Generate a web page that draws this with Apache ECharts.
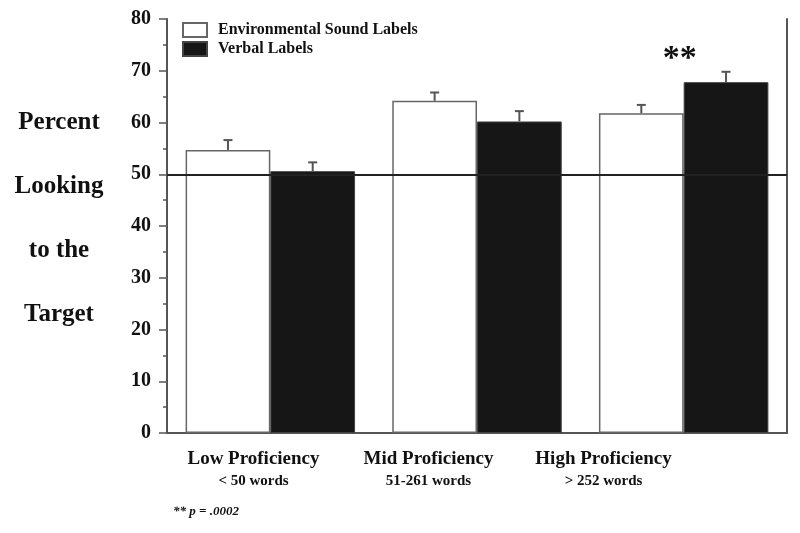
<!DOCTYPE html>
<html><head><meta charset="utf-8">
<script src="https://cdn.jsdelivr.net/npm/echarts@6/dist/echarts.min.js"></script>
<style>html,body{margin:0;padding:0;background:#fff}#c{width:800px;height:533px}</style>
</head><body><div id="c"></div>
<script>
const categories = ['Low Proficiency', 'Mid Proficiency', 'High Proficiency'];
const subLabels = ['< 50 words', '51-261 words', '> 252 words'];
const seriesNames = ['Environmental Sound Labels', 'Verbal Labels'];
const envValues = [54.7, 64.2, 61.8];
const envErrors = [1.9, 1.6, 1.6];
const verbalValues = [50.6, 60.2, 67.8];
const verbalErrors = [1.7, 2.0, 2.0];
const chanceLevel = 50;
const sigCategory = 2;
const sigText = '**';
const yTitleLines = ['Percent', 'Looking', 'to the', 'Target'];
const footnote = '** p = .0002';

const SERIF = '"Liberation Serif", "DejaVu Serif", serif';
const GAP = 0.18;
const AX = '#555';

function errRender(sign) {
  return function (params, api) {
    const x = api.value(0), v = api.value(1), e = api.value(2);
    const base = api.coord([x, v]);
    const top = api.coord([x, v + e]);
    const band = api.size([1, 0])[0];
    const cx = base[0] + sign * band * (1 - GAP) / 4;
    const hw = 4.5;
    return {
      type: 'group',
      children: [
        { type: 'line', shape: { x1: cx, y1: base[1], x2: cx, y2: top[1] }, style: { stroke: AX, lineWidth: 2 } },
        { type: 'line', shape: { x1: cx - hw, y1: top[1], x2: cx + hw, y2: top[1] }, style: { stroke: AX, lineWidth: 2 } }
      ]
    };
  };
}

const chart = echarts.init(document.getElementById('c'), null, { renderer: 'canvas' });
chart.setOption({
  backgroundColor: '#fff',
  animation: false,
  textStyle: { fontFamily: SERIF },
  grid: [
    { left: 167, right: 13, top: 19, bottom: 100 },
    { left: 166, top: 19, width: 525, bottom: 100 }
  ],
  legend: {
    data: seriesNames,
    orient: 'vertical',
    left: 182, top: 22,
    padding: 0,
    itemWidth: 24, itemHeight: 14, itemGap: 3,
    icon: 'rect',
    textStyle: { fontFamily: SERIF, fontWeight: 'bold', fontSize: 16, color: '#111', padding: [0, 0, 0, 6] }
  },
  xAxis: [
    {
      type: 'category', data: categories, gridIndex: 0,
      axisLine: { show: true, lineStyle: { color: AX, width: 2 } },
      axisTick: { show: false }, axisLabel: { show: false }, splitLine: { show: false }
    },
    {
      type: 'category', data: categories, gridIndex: 1,
      axisLine: { show: false }, axisTick: { show: false }, splitLine: { show: false },
      axisLabel: {
        show: true, margin: 16, interval: 0,
        formatter: function (val, idx) { return '{a|' + val + '}\n{b|' + subLabels[idx] + '}'; },
        rich: {
          a: { fontFamily: SERIF, fontWeight: 'bold', fontSize: 19, lineHeight: 20, color: '#111' },
          b: { fontFamily: SERIF, fontWeight: 'bold', fontSize: 15, lineHeight: 24, color: '#111' }
        }
      }
    }
  ],
  yAxis: [
    {
      type: 'value', min: 0, max: 80, interval: 10, gridIndex: 0,
      axisLine: { show: true, lineStyle: { color: AX, width: 2 } },
      axisTick: { show: true, length: 8, lineStyle: { color: AX, width: 1.5 } },
      minorTick: { show: true, splitNumber: 2, length: 4, lineStyle: { color: AX, width: 1.5 } },
      splitLine: { show: false },
      axisLabel: { margin: 16, fontFamily: SERIF, fontWeight: 'bold', fontSize: 20, color: '#111' }
    },
    {
      type: 'value', min: 0, max: 80, gridIndex: 0, position: 'right',
      axisLine: { show: true, lineStyle: { color: AX, width: 2 } },
      axisTick: { show: false }, axisLabel: { show: false }, splitLine: { show: false }
    },
    {
      type: 'value', min: 0, max: 80, gridIndex: 1, show: false
    }
  ],
  series: [
    {
      name: seriesNames[0], type: 'bar', data: envValues,
      barGap: '0%', barCategoryGap: (GAP * 100) + '%',
      itemStyle: { color: '#fff', borderColor: '#666', borderWidth: 1.5 },
      markLine: {
        silent: true, symbol: ['none', 'none'], label: { show: false },
        lineStyle: { color: '#222', width: 2, type: 'solid' },
        data: [{ yAxis: chanceLevel }]
      }
    },
    {
      name: seriesNames[1], type: 'bar', data: verbalValues,
      itemStyle: { color: '#161616', borderColor: '#444', borderWidth: 1 }
    },
    {
      type: 'custom', renderItem: errRender(-1),
      data: envValues.map((v, i) => [i, v, envErrors[i]]),
      encode: { x: 0, y: 1 }, silent: true, z: 3
    },
    {
      type: 'custom', renderItem: errRender(1),
      data: verbalValues.map((v, i) => [i, v, verbalErrors[i]]),
      encode: { x: 0, y: 1 }, silent: true, z: 3,
      markPoint: {
        symbol: 'rect', symbolSize: 0,
        label: { show: true, formatter: sigText, position: 'inside', offset: [-4, 0], fontFamily: SERIF, fontWeight: 'bold', fontSize: 34, color: '#111' },
        data: [{ coord: [sigCategory, verbalValues[sigCategory] + verbalErrors[sigCategory] + 2.5] }]
      }
    },
    { type: 'line', xAxisIndex: 1, yAxisIndex: 2, data: [], silent: true }
  ],
  graphic: [
    {
      type: 'text', x: 59, y: 219,
      style: {
        text: yTitleLines.join('\n'), align: 'center', verticalAlign: 'middle',
        font: 'bold 25px ' + SERIF, lineHeight: 64, fill: '#111'
      }
    },
    {
      type: 'text', x: 173, y: 512,
      style: {
        text: footnote, align: 'left', verticalAlign: 'middle',
        font: 'italic bold 13px ' + SERIF, fill: '#111'
      }
    }
  ]
});
</script></body></html>
